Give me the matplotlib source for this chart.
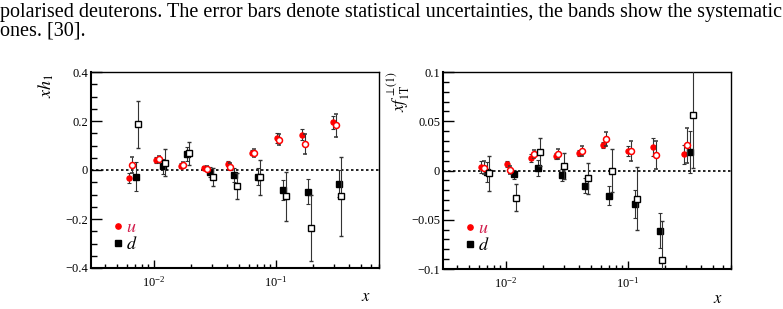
import numpy as np
import matplotlib.pyplot as plt
from matplotlib.ticker import MultipleLocator, LogLocator, NullFormatter

plt.rcParams['font.family'] = 'Liberation Serif'
plt.rcParams['mathtext.fontset'] = 'stix'

# ---- x h_1 (left panel) ----
h1_u_x = [0.00625, 0.0104, 0.0166, 0.0259, 0.0404, 0.0634, 0.1015, 0.164, 0.292]
h1_u = [-0.033, 0.041, 0.018, 0.010, 0.026, 0.071, 0.131, 0.144, 0.194]
h1_u_err = [0.020, 0.012, 0.010, 0.008, 0.010, 0.010, 0.020, 0.023, 0.025]

h1_u2_x = [0.00662, 0.0110, 0.0174, 0.0271, 0.0422, 0.0667, 0.107, 0.173, 0.308]
h1_u2 = [0.021, 0.044, 0.019, 0.005, 0.014, 0.070, 0.123, 0.105, 0.182]
h1_u2_err = [0.034, 0.015, 0.012, 0.010, 0.013, 0.015, 0.022, 0.040, 0.047]

h1_d_x = [0.0071, 0.0118, 0.0185, 0.0290, 0.0453, 0.0714, 0.115, 0.185, 0.330]
h1_d = [-0.027, 0.015, 0.064, -0.007, -0.020, -0.027, -0.081, -0.088, -0.056]
h1_d_err = [0.060, 0.030, 0.028, 0.020, 0.027, 0.034, 0.040, 0.050, 0.055]

h1_d2_x = [0.00743, 0.0123, 0.0195, 0.0303, 0.0476, 0.0747, 0.120, 0.195, 0.344]
h1_d2 = [0.186, 0.030, 0.068, -0.027, -0.066, -0.030, -0.107, -0.237, -0.108]
h1_d2_err = [0.097, 0.056, 0.048, 0.037, 0.053, 0.072, 0.100, 0.133, 0.160]

# ---- x f_1T^perp(1) (right panel) ----
f1t_u_x = [0.00625, 0.0103, 0.0162, 0.0257, 0.0398, 0.0625, 0.1007, 0.162, 0.288]
f1t_u = [0.0034, 0.0065, 0.0130, 0.0146, 0.0177, 0.0255, 0.0194, 0.0235, 0.0163]
f1t_u_err = [0.006, 0.003, 0.004, 0.003, 0.003, 0.003, 0.005, 0.009, 0.010]

f1t_u2_x = [0.0066, 0.0109, 0.0170, 0.0269, 0.0420, 0.0658, 0.106, 0.170, 0.303]
f1t_u2 = [0.0030, 0.0007, 0.0167, 0.0170, 0.0194, 0.0320, 0.0200, 0.0160, 0.0255]
f1t_u2_err = [0.007, 0.004, 0.004, 0.005, 0.005, 0.0075, 0.010, 0.014, 0.018]

f1t_d_x = [0.00697, 0.0116, 0.0183, 0.0286, 0.0447, 0.0702, 0.1135, 0.1837, 0.325]
f1t_d = [-0.0014, -0.0040, 0.0024, -0.0048, -0.0153, -0.0255, -0.0340, -0.0610, 0.0187]
f1t_d_err = [0.010, 0.005, 0.008, 0.006, 0.008, 0.010, 0.014, 0.018, 0.021]

f1t_d2_x = [0.00733, 0.0122, 0.0192, 0.0300, 0.0467, 0.0738, 0.1186, 0.192, 0.340]
f1t_d2 = [-0.0030, -0.0276, 0.0190, 0.0048, -0.0080, 0.0000, -0.0286, -0.0910, 0.0565]
f1t_d2_err = [0.018, 0.0136, 0.014, 0.013, 0.016, 0.022, 0.032, 0.040, 0.054]

caption1 = 'polarised deuterons. The error bars denote statistical uncertainties, the bands show the systematic'
caption2 = 'ones. [30].'

fig = plt.figure(figsize=(7.83, 3.09), dpi=100)
fig.text(0.0, 1 - 12 / 309, caption1, fontsize=14.5, va='center', ha='left')
fig.text(0.0, 1 - 31 / 309, caption2, fontsize=14.5, va='center', ha='left')

ax1 = fig.add_axes([91 / 783, 41 / 309, 288 / 783, 196 / 309])
ax2 = fig.add_axes([443 / 783, 40 / 309, 288 / 783, 197 / 309])


def draw(ax, u, u2, d, d2):
    ebkw = dict(capsize=1.3, elinewidth=0.8, capthick=0.8, ecolor='#333333', ls='none')
    ax.errorbar(u[0], u[1], yerr=u[2], fmt='o', ms=3.6, mfc='red', mec='red', zorder=4, **ebkw)
    ax.errorbar(u2[0], u2[1], yerr=u2[2], fmt='o', ms=4.3, mfc='white', mec='red', mew=1.1, zorder=5, **ebkw)
    ax.errorbar(d[0], d[1], yerr=d[2], fmt='s', ms=3.8, mfc='black', mec='black', zorder=4, **ebkw)
    ax.errorbar(d2[0], d2[1], yerr=d2[2], fmt='s', ms=4.3, mfc='white', mec='black', mew=1.0, zorder=5, **ebkw)
    ax.axhline(0, color='black', ls=(0, (1.5, 1.5)), lw=1.2, zorder=2)
    ax.set_xscale('log')
    ax.set_xlim(0.00305, 0.70)
    ax.xaxis.set_major_locator(LogLocator(base=10, numticks=10))
    ax.xaxis.set_minor_locator(LogLocator(base=10, subs=np.arange(2, 10), numticks=20))
    ax.xaxis.set_minor_formatter(NullFormatter())
    ax.tick_params(which='both', direction='in', top=False, right=False, labelsize=9)
    ax.tick_params(axis='y', which='major', length=8, width=1, pad=2)
    ax.tick_params(axis='y', which='minor', length=4, width=1)
    ax.tick_params(axis='x', which='major', length=6, width=1, pad=5)
    ax.tick_params(axis='x', which='minor', length=3, width=1)
    for s in ['left', 'bottom']:
        ax.spines[s].set_linewidth(1.5)
    for s in ['top', 'right']:
        ax.spines[s].set_linewidth(1.0)
    h_u = ax.plot([], [], 'o', color='red', ms=3.8)[0]
    h_d = ax.plot([], [], 's', color='black', ms=4.3)[0]
    leg = ax.legend([h_u, h_d], ['$u$', '$d$'], loc='lower left', bbox_to_anchor=(0.05, 0.04),
                    frameon=False, fontsize=13, handlelength=0.6, handletextpad=0.15,
                    labelspacing=0.0, borderaxespad=0)
    leg.get_texts()[0].set_color('#d2204e')
    ax.text(0.955, -0.15, '$x$', transform=ax.transAxes, fontsize=12, ha='center', va='center')


draw(ax1, (h1_u_x, h1_u, h1_u_err), (h1_u2_x, h1_u2, h1_u2_err),
     (h1_d_x, h1_d, h1_d_err), (h1_d2_x, h1_d2, h1_d2_err))
ax1.set_ylim(-0.4, 0.4)
ax1.yaxis.set_major_locator(MultipleLocator(0.2))
ax1.yaxis.set_minor_locator(MultipleLocator(0.05))
ax1.text(-0.155, 0.93, '$xh_1$', transform=ax1.transAxes, rotation=90, fontsize=13, ha='center', va='center')

draw(ax2, (f1t_u_x, f1t_u, f1t_u_err), (f1t_u2_x, f1t_u2, f1t_u2_err),
     (f1t_d_x, f1t_d, f1t_d_err), (f1t_d2_x, f1t_d2, f1t_d2_err))
ax2.set_ylim(-0.1, 0.1)
ax2.yaxis.set_major_locator(MultipleLocator(0.05))
ax2.yaxis.set_minor_locator(MultipleLocator(0.01))
ax2.text(-0.155, 0.9, r'$xf_{1\mathrm{T}}^{\perp(1)}$', transform=ax2.transAxes, rotation=90, fontsize=12, ha='center', va='center')

for ax in (ax1, ax2):
    ax.yaxis.set_major_formatter(plt.FuncFormatter(lambda v, p: '0' if abs(v) < 1e-9 else ('%g' % v).replace('-', '\u2212')))

plt.savefig('out.png', dpi=100)
